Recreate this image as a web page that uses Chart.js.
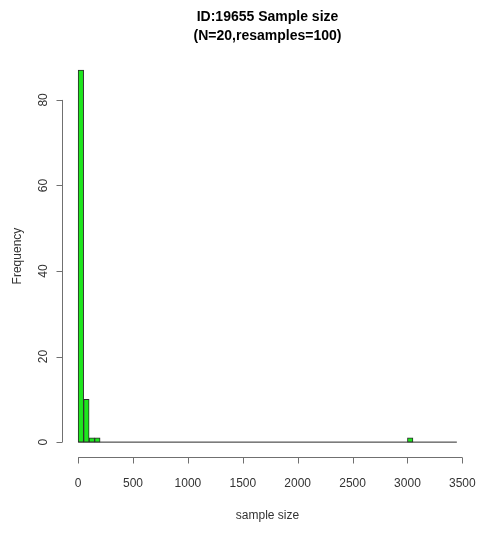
<!DOCTYPE html>
<html>
<head>
<meta charset="utf-8">
<script src="https://cdn.jsdelivr.net/npm/chart.js@4"></script>
<style>
  html, body { margin: 0; padding: 0; background: #fff; }
  #wrap { width: 492px; height: 533px; }
</style>
</head>
<body>
<div id="wrap"><canvas id="c"></canvas></div>
<script>
// histogram of resampled sample sizes
const binStarts = [0, 50, 100, 150, 3000];
const binCounts = [87, 10, 1, 1, 1];
const binWidth = 50;
const histRange = [0, 3450];   // first and last break
const xTicks = [0, 500, 1000, 1500, 2000, 2500, 3000, 3500];
const yTicks = [0, 20, 40, 60, 80];

const titleLines = ['ID:19655 Sample size', '(N=20,resamples=100)'];
const xLabel = 'sample size';
const yLabel = 'Frequency';

// R extends the plot region by 4% on each side
const xPad = (histRange[1] - histRange[0]) * 0.04;
const yMax = Math.max(...binCounts);
const yPad = yMax * 0.04;

const bars = binStarts.map((b, i) => ({ x: b + binWidth / 2, y: binCounts[i] }));
const baseline = histRange.map(v => ({ x: v, y: 0 }));

const FONT = "'Liberation Sans', Arial, sans-serif";
const AXIS_COLOR = '#707070';

// draw R style axes: line spans first..last tick, ticks point outward
const rAxes = {
  id: 'rAxes',
  afterDraw(chart) {
    const ctx = chart.ctx;
    const { left, bottom } = chart.chartArea;
    const xs = chart.scales.x, ys = chart.scales.y;
    ctx.save();
    ctx.strokeStyle = AXIS_COLOR;
    ctx.lineWidth = 1;
    ctx.beginPath();
    const yLine = Math.round(bottom) + 0.5;
    ctx.moveTo(xs.getPixelForValue(xTicks[0]), yLine);
    ctx.lineTo(xs.getPixelForValue(xTicks[xTicks.length - 1]), yLine);
    xTicks.forEach(v => {
      const px = Math.round(xs.getPixelForValue(v)) + 0.5;
      ctx.moveTo(px, yLine);
      ctx.lineTo(px, yLine + 6);
    });
    const xLine = Math.round(left) - 0.5;
    ctx.moveTo(xLine, ys.getPixelForValue(yTicks[0]));
    ctx.lineTo(xLine, ys.getPixelForValue(yTicks[yTicks.length - 1]));
    yTicks.forEach(v => {
      const py = Math.round(ys.getPixelForValue(v)) + 0.5;
      ctx.moveTo(xLine, py);
      ctx.lineTo(xLine - 6, py);
    });
    ctx.stroke();
    ctx.restore();
  }
};

new Chart(document.getElementById('c'), {
  type: 'bar',
  data: {
    datasets: [
      {
        type: 'bar',
        data: bars,
        backgroundColor: '#1ee61e',
        borderColor: '#2a2a2a',
        borderWidth: 1,
        borderSkipped: false,
        barPercentage: 1,
        categoryPercentage: 1
      },
      {
        type: 'line',
        data: baseline,
        borderColor: '#2a2a2a',
        borderWidth: 1,
        pointRadius: 0,
        fill: false
      }
    ]
  },
  options: {
    responsive: true,
    maintainAspectRatio: false,
    animation: false,
    devicePixelRatio: 1,
    layout: { padding: { top: 0, left: 0, right: 20, bottom: 0 } },
    plugins: {
      legend: { display: false },
      tooltip: { enabled: false },
      title: {
        display: true,
        fullSize: false,
        text: titleLines,
        color: '#000',
        font: { family: FONT, size: 14, weight: 'bold', lineHeight: 1.36 },
        padding: { top: 8, bottom: 9 }
      }
    },
    scales: {
      x: {
        type: 'linear',
        offset: false,
        min: histRange[0] - xPad,
        max: histRange[1] + xPad,
        afterBuildTicks: s => { s.ticks = xTicks.map(v => ({ value: v })); },
        afterFit: s => { s.height = 76; s.paddingLeft = 0; s.paddingRight = 0; },
        grid: { display: false, drawTicks: false, offset: false },
        border: { display: false },
        ticks: {
          color: '#333',
          font: { family: FONT, size: 12 },
          padding: 19,
          maxRotation: 0,
          autoSkip: false,
          callback: v => String(v)
        },
        title: {
          display: true,
          text: xLabel,
          color: '#333',
          font: { family: FONT, size: 12 },
          padding: { top: 10, bottom: 10 }
        }
      },
      y: {
        min: -yPad,
        max: yMax + yPad,
        afterBuildTicks: s => { s.ticks = yTicks.map(v => ({ value: v })); },
        afterFit: s => { s.width = 63; s.paddingTop = 0; s.paddingBottom = 0; },
        grid: { display: false, drawTicks: false },
        border: { display: false },
        ticks: {
          color: '#333',
          font: { family: FONT, size: 12 },
          padding: 13,
          minRotation: 90,
          maxRotation: 90,
          crossAlign: 'center',
          autoSkip: false,
          callback: v => String(v)
        },
        title: {
          display: true,
          text: yLabel,
          color: '#333',
          font: { family: FONT, size: 12 },
          padding: { top: 10, bottom: 10 }
        }
      }
    }
  },
  plugins: [rAxes]
});
</script>
</body>
</html>
